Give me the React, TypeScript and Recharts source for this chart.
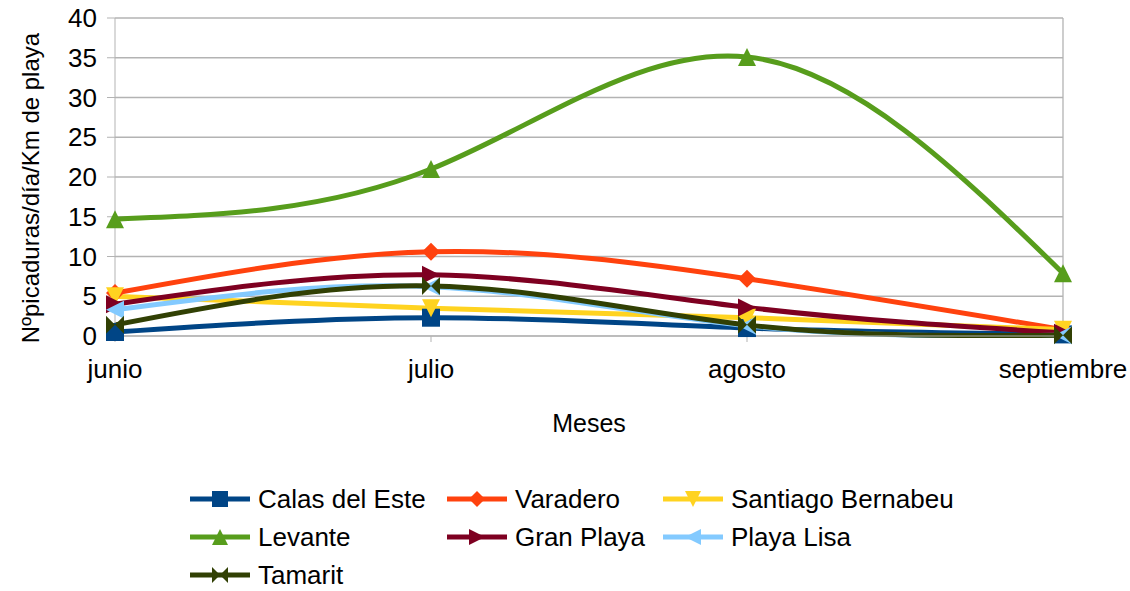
import { LineChart, Line, XAxis, YAxis, CartesianGrid, ReferenceLine } from "recharts";

const MESES = ["junio", "julio", "agosto", "septiembre"];

const CALAS_DEL_ESTE = [0.5, 2.3, 1.0, 0.2];
const VARADERO = [5.4, 10.6, 7.2, 0.8];
const SANTIAGO_BERNABEU = [5.0, 3.5, 2.3, 0.8];
const LEVANTE = [14.7, 21.0, 35.1, 7.9];
const GRAN_PLAYA = [4.0, 7.7, 3.6, 0.4];
const PLAYA_LISA = [3.3, 6.2, 1.3, 0.1];
const TAMARIT = [1.4, 6.3, 1.4, 0.1];

const Y_TICKS = [0, 5, 10, 15, 20, 25, 30, 35, 40];

type Shape = "square" | "diamond" | "down" | "up" | "right" | "left" | "bowtie";

const SERIES: { key: string; name: string; color: string; shape: Shape; values: number[] }[] = [
  { key: "calas", name: "Calas del Este", color: "#004586", shape: "square", values: CALAS_DEL_ESTE },
  { key: "varadero", name: "Varadero", color: "#ff420e", shape: "diamond", values: VARADERO },
  { key: "santiago", name: "Santiago Bernabeu", color: "#ffd320", shape: "down", values: SANTIAGO_BERNABEU },
  { key: "levante", name: "Levante", color: "#579d1c", shape: "up", values: LEVANTE },
  { key: "granplaya", name: "Gran Playa", color: "#7e0021", shape: "right", values: GRAN_PLAYA },
  { key: "playalisa", name: "Playa Lisa", color: "#83caff", shape: "left", values: PLAYA_LISA },
  { key: "tamarit", name: "Tamarit", color: "#314004", shape: "bowtie", values: TAMARIT },
];

const data = MESES.map((mes, i) => {
  const row: any = { mes };
  SERIES.forEach((s) => (row[s.key] = s.values[i]));
  return row;
});

const FONT = "'Liberation Sans', Arial, sans-serif";
const GRID = "#b3b3b3";

function markerPath(shape: Shape, cx: number, cy: number, r: number) {
  switch (shape) {
    case "square":
      return `M${cx - r},${cy - r}H${cx + r}V${cy + r}H${cx - r}Z`;
    case "diamond":
      return `M${cx},${cy - r}L${cx + r},${cy}L${cx},${cy + r}L${cx - r},${cy}Z`;
    case "down":
      return `M${cx - r},${cy - r}H${cx + r}L${cx},${cy + r}Z`;
    case "up":
      return `M${cx - r},${cy + r}H${cx + r}L${cx},${cy - r}Z`;
    case "right":
      return `M${cx - r},${cy - r}V${cy + r}L${cx + r},${cy}Z`;
    case "left":
      return `M${cx + r},${cy - r}V${cy + r}L${cx - r},${cy}Z`;
    case "bowtie":
      return `M${cx - r},${cy - r}L${cx + r},${cy + r}V${cy - r}L${cx - r},${cy + r}Z`;
  }
}

function makeDot(shape: Shape, color: string) {
  return (props: any) => {
    const { cx, cy, index } = props;
    if (cx == null || cy == null) return <g key={index} />;
    return <path key={index} d={markerPath(shape, cx, cy, 9)} fill={color} />;
  };
}

function YLabel() {
  return (
    <text
      x={30}
      y={188}
      transform="rotate(-90, 30, 188)"
      textAnchor="middle"
      dominantBaseline="central"
      fill="#000"
      fontSize={24}
      fontFamily={FONT}
    >
      Nºpicaduras/día/Km de playa
    </text>
  );
}

function LegendItem({ name, color, shape }: { name: string; color: string; shape: Shape }) {
  return (
    <div style={{ display: "flex", alignItems: "center", height: 24 }}>
      <svg width={60} height={24} style={{ marginRight: 8 }}>
        <line x1={0} y1={12} x2={60} y2={12} stroke={color} strokeWidth={5} />
        <path d={markerPath(shape, 30, 12, 8)} fill={color} />
      </svg>
      <span style={{ fontFamily: FONT, fontSize: 26, lineHeight: "24px", color: "#000", whiteSpace: "nowrap" }}>
        {name}
      </span>
    </div>
  );
}

export default function App() {
  const cols = [190, 447, 663];
  return (
    <div style={{ position: "absolute", left: 0, top: 0, width: 1130, height: 591, background: "#fff" }}>
      <LineChart
        width={1130}
        height={591}
        data={data}
        margin={{ top: 18, right: 67, left: 0, bottom: 145 }}
      >
        <CartesianGrid vertical={false} stroke={GRID} strokeWidth={1.3} />
        <XAxis
          dataKey="mes"
          height={110}
          padding={{ left: 0, right: 0 }}
          stroke={GRID}
          tickSize={6}
          tickMargin={18}
          tick={{ fill: "#000", fontSize: 26, fontFamily: FONT }}
          label={{ value: "Meses", position: "insideBottom", offset: 14, fill: "#000", fontSize: 25, fontFamily: FONT }}
        />
        <YAxis
          width={115}
          domain={[0, 40]}
          ticks={Y_TICKS}
          interval={0}
          stroke={GRID}
          tickSize={8}
          tickMargin={10}
          tick={{ fill: "#000", fontSize: 26, fontFamily: FONT }}
          label={<YLabel />}
        />
        <ReferenceLine x="septiembre" stroke={GRID} strokeWidth={1.3} />
        {SERIES.map((s) => (
          <Line
            key={s.key}
            type="natural"
            dataKey={s.key}
            name={s.name}
            stroke={s.color}
            strokeWidth={5}
            dot={makeDot(s.shape, s.color)}
            activeDot={false}
            isAnimationActive={false}
          />
        ))}
      </LineChart>
      {SERIES.map((s, i) => (
        <div
          key={s.key}
          style={{ position: "absolute", left: cols[i % 3], top: 487 + Math.floor(i / 3) * 38 }}
        >
          <LegendItem name={s.name} color={s.color} shape={s.shape} />
        </div>
      ))}
    </div>
  );
}
